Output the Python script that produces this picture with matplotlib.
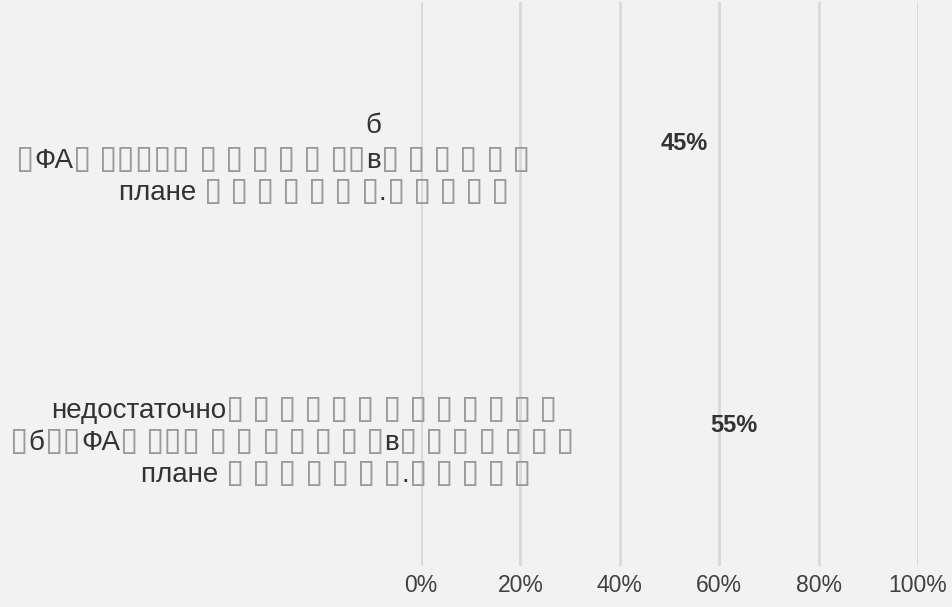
import matplotlib
matplotlib.use('Agg')
import matplotlib.pyplot as plt
from matplotlib.ticker import FuncFormatter
from matplotlib.offsetbox import TextArea, HPacker, AnnotationBbox

plt.rcParams['font.family'] = ['Liberation Sans', 'DejaVu Sans']

# данные (▯ — символы, которые в исходнике не отрисовались)
category_lines = [
    ['б',
     '▯ФА▯ ▯▯▯▯▯ ▯ ▯ ▯ ▯ ▯ ▯▯в▯ ▯ ▯ ▯ ▯ ▯',
     'плане ▯ ▯ ▯ ▯ ▯ ▯ ▯.▯ ▯ ▯ ▯ ▯'],
    ['недостаточно▯ ▯ ▯ ▯ ▯ ▯ ▯ ▯ ▯ ▯ ▯ ▯ ▯',
     '▯б▯▯ФА▯ ▯▯▯ ▯ ▯ ▯ ▯ ▯ ▯ ▯в▯ ▯ ▯ ▯ ▯ ▯ ▯',
     'плане ▯ ▯ ▯ ▯ ▯ ▯ ▯.▯ ▯ ▯ ▯ ▯'],
]
values = [45, 55]
xticks = [0, 20, 40, 60, 80, 100]

bg = '#f2f2f2'
TOFU = '▯'
fig = plt.figure(figsize=(9.52, 6.07), dpi=100, facecolor=bg)
ax = fig.add_axes([421 / 952, (607 - 566) / 607, 497 / 952, 564 / 607])
ax.set_facecolor(bg)

ypos = list(range(len(values)))
ax.barh(ypos, values, height=0.5, color='none', edgecolor='none')

ax.set_xlim(0, 100)
ax.set_ylim(len(values) - 0.5, -0.5)
ax.set_xticks(xticks)
ax.xaxis.set_major_formatter(FuncFormatter(lambda v, p: f'{v:.0f}%'))
ax.set_yticks([])
ax.grid(axis='x', color='#d9d9d9', linewidth=2)
ax.set_axisbelow(True)
for s in ax.spines.values():
    s.set_visible(False)
ax.tick_params(axis='x', length=0, pad=6, labelsize=16.5, labelcolor='#404040')


def make_line(txt):
    # разбиваем строку на куски: обычный текст и "квадратики"
    runs = []
    cur = ''
    for ch in txt:
        if cur and ((ch == TOFU) != (cur[-1] == TOFU)):
            runs.append(cur)
            cur = ''
        cur += ch
    if cur:
        runs.append(cur)
    boxes = []
    for r in runs:
        if r[0] == TOFU:
            props = dict(fontsize=24, color='#9a9a9a', family='DejaVu Sans')
        else:
            props = dict(fontsize=20, color='#333333')
        boxes.append(TextArea(r, textprops=props))
    return HPacker(children=boxes, align='baseline', pad=0, sep=0)


# подписи категорий (по строкам, как в исходнике)
line_x = [[-0.095, -0.298, -0.215], [-0.235, -0.259, -0.17]]
line_dy = [-17, 16, 47]
ytr = ax.get_yaxis_transform()
for i, lines in enumerate(category_lines):
    for j, txt in enumerate(lines):
        ab = AnnotationBbox(make_line(txt), (line_x[i][j], i), xycoords=ytr,
                            xybox=(0, -line_dy[j] * 0.72), boxcoords='offset points',
                            box_alignment=(0.5, 0.5), frameon=False, pad=0,
                            annotation_clip=False)
        ax.add_artist(ab)

# подписи значений
for i, v in enumerate(values):
    ax.text(v + 8, i, f'{v}%', ha='center', va='center',
            fontsize=17, fontweight='bold', color='#333333')

fig.savefig('out.png', dpi=100, facecolor=bg)
